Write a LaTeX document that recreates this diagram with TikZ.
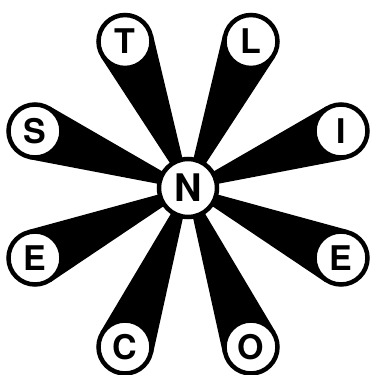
\documentclass[tikz,border=0pt]{standalone}
\usepackage{fontspec}
\setmainfont{TeX Gyre Heros}
\usepackage{tikz}
\usetikzlibrary{calc,backgrounds}

\begin{document}
\begin{tikzpicture}[x=1pt,y=1pt,
    letter/.style={draw,circle,line width=4.5pt,fill=white,minimum size=53pt,inner sep=0pt,font=\fontsize{34}{34}\selectfont\bfseries},
    hub/.style={letter,minimum size=58pt,font=\fontsize{38}{38}\selectfont\bfseries}]
    \useasboundingbox (0,0) rectangle (372,375);
    \node[hub] (N) at (188,187) {N};
    \node[letter] (T) at (125,333.5) {T};
    \node[letter] (L) at (251,333.5) {L};
    \node[letter] (S) at (35,244) {S};
    \node[letter] (I) at (341,244) {I};
    \node[letter] (El) at (35,117) {E};
    \node[letter] (Er) at (341,117) {E};
    \node[letter] (C) at (125,28) {C};
    \node[letter] (O) at (251,28) {O};
    % tapered spokes behind the circles
    \begin{pgfonlayer}{background}
    \foreach \s in {T,L,S,I,El,Er,C,O}
        \fill ($(N.center)!1.5pt!99.6:(\s.center)$) -- ($(\s.center)!28.75pt!-80.4:(N.center)$)
            -- ($(\s.center)!28.75pt!80.4:(N.center)$) -- ($(N.center)!1.5pt!-99.6:(\s.center)$) -- cycle;
    \end{pgfonlayer}
\end{tikzpicture}
\end{document}
